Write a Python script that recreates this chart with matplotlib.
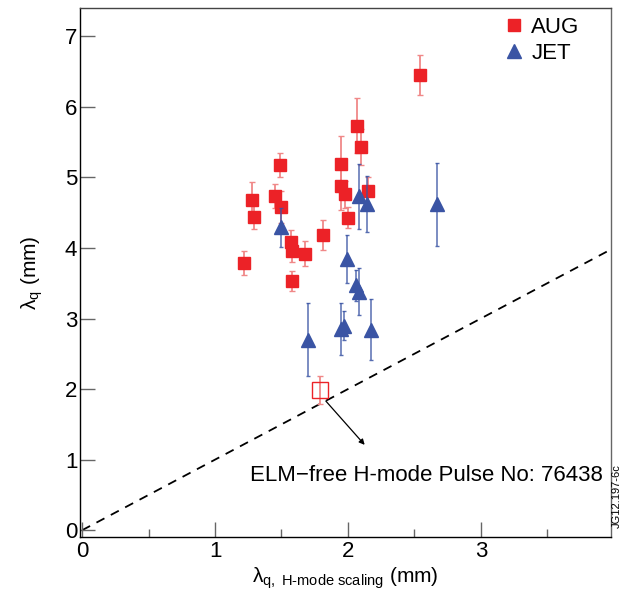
import numpy as np
import matplotlib
matplotlib.use("Agg")
import matplotlib.pyplot as plt
from matplotlib.ticker import MultipleLocator

plt.rcParams["font.family"] = ["Liberation Sans", "DejaVu Sans"]
plt.rcParams["mathtext.fontset"] = "custom"
plt.rcParams["mathtext.rm"] = "Liberation Sans"
plt.rcParams["mathtext.it"] = "Liberation Sans:italic"

# AUG data (x = scaling, y = measured, yerr)
aug_x = [1.22, 1.28, 1.29, 1.45, 1.49, 1.50, 1.57, 1.58, 1.58, 1.68, 1.81,
         1.95, 1.95, 1.98, 2.00, 2.07, 2.10, 2.15, 2.54]
aug_y = [3.78, 4.68, 4.44, 4.74, 5.17, 4.58, 4.08, 3.96, 3.53, 3.92, 4.18,
         5.19, 4.88, 4.76, 4.43, 5.73, 5.43, 4.81, 6.45]
aug_err = [0.17, 0.25, 0.17, 0.17, 0.17, 0.23, 0.17, 0.16, 0.14, 0.18, 0.21,
           0.40, 0.34, 0.19, 0.15, 0.39, 0.25, 0.20, 0.28]

# JET data
jet_x = [1.50, 1.70, 1.95, 1.97, 1.99, 2.06, 2.08, 2.085, 2.14, 2.175, 2.67]
jet_y = [4.29, 2.70, 2.85, 2.90, 3.85, 3.47, 3.38, 4.73, 4.62, 2.84, 4.62]
jet_err = [0.28, 0.52, 0.37, 0.21, 0.34, 0.22, 0.33, 0.46, 0.40, 0.43, 0.59]

# ELM-free H-mode pulse (open symbol)
elm_x = [1.79]
elm_y = [1.99]
elm_err = [0.20]

red = "#ec2227"
blue = "#3a54a4"

fig = plt.figure(figsize=(6.21, 5.94), dpi=100)
ax = fig.add_axes([0.129, 0.0955, 0.855, 0.891])

ax.errorbar(aug_x, aug_y, yerr=aug_err, fmt="none", ecolor="#f08888",
            elinewidth=1.3, capsize=2, capthick=1.0, zorder=2)
ax.plot(aug_x, aug_y, "s", color=red, markersize=8, zorder=3, label="AUG")

ax.errorbar(jet_x, jet_y, yerr=jet_err, fmt="none", ecolor=blue,
            elinewidth=1.1, capsize=1.5, capthick=1.0, alpha=0.85, zorder=4)
ax.plot(jet_x, jet_y, "^", color=blue, markersize=10, zorder=5, label="JET")

ax.errorbar(elm_x, elm_y, yerr=elm_err, fmt="s", mfc="none", mec=red,
            ecolor="#f08888", markersize=11, mew=1.0, elinewidth=1.3,
            capsize=2, zorder=3)

xl = np.array([0, 4.0])
ax.plot(xl, xl, "k--", lw=1.3, dashes=(5, 4), zorder=1)

ax.annotate("", xy=(2.14, 1.18), xytext=(1.82, 1.86),
            arrowprops=dict(arrowstyle="-|>", color="black", lw=0.9,
                            mutation_scale=8))
ax.text(1.26, 0.77, "ELM\u2212free H-mode Pulse No: 76438", fontsize=16,
        va="center", ha="left")

ax.set_xlim(-0.015, 3.98)
ax.set_ylim(-0.10, 7.40)
ax.xaxis.set_major_locator(MultipleLocator(1))
ax.xaxis.set_minor_locator(MultipleLocator(0.5))
ax.yaxis.set_major_locator(MultipleLocator(1))
ax.tick_params(which="major", direction="in", length=11, width=1.0,
               color="#666666", labelsize=16, pad=2)
ax.tick_params(which="minor", direction="in", length=6, width=1.0,
               color="#666666")
ax.tick_params(axis="x", pad=3)
for s in ax.spines.values():
    s.set_linewidth(1.0)
ax.spines["right"].set_color("#666666")
ax.spines["top"].set_color("#444444")

ax.set_xlabel(r"$\mathregular{λ_{q,\ H\text{-}mode\ scaling}}$ (mm)",
              fontsize=15, labelpad=2)
ax.set_ylabel(r"$\mathregular{λ_{q}}$ (mm)", fontsize=15, labelpad=14)

ax.legend(loc="upper right", frameon=False, fontsize=16, handletextpad=0.2,
          borderaxespad=0.3, labelspacing=0.2, handlelength=1.2,
          bbox_to_anchor=(0.97, 1.012))

fig.text(0.993, 0.165, "JG12.197-6c", rotation=90, fontsize=8,
         ha="center", va="center")

fig.savefig("out.png", dpi=100)
